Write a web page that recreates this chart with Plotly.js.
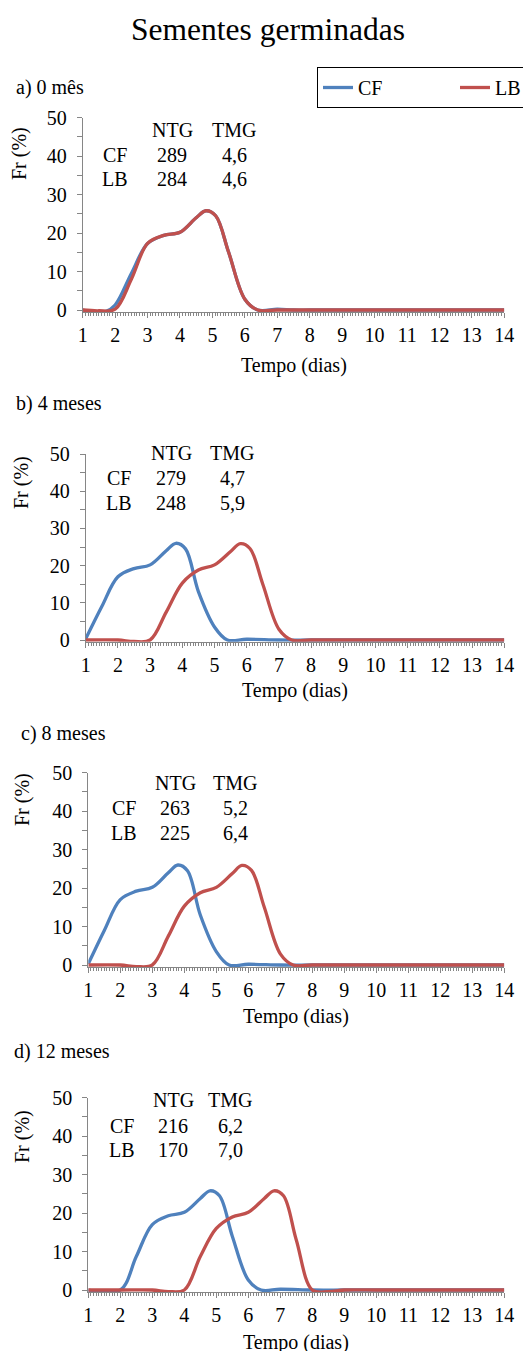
<!DOCTYPE html>
<html>
<head>
<meta charset="utf-8">
<script src="https://cdn.plot.ly/plotly-3.0.1.min.js"></script>
<style>html,body{margin:0;padding:0;background:#fff;}#chart{width:523px;height:1351px;}</style>
</head>
<body>
<div id="chart"></div>
<script>
// ---------- data ----------
var seriesNames = ["CF", "LB"];
var panelLabels = ["a) 0 mês", "b) 4 meses", "c) 8 meses", "d) 12 meses"];

// panel a) 0 mês
var aCF_x = [1, 1.7, 2, 2.5, 3, 3.5, 4, 4.5, 4.8, 5.1, 5.5, 6, 6.4, 7, 7.5, 8, 9, 10, 11, 12, 13, 14];
var aCF_y = [0, -0.4, 1.3, 9.5, 17.3, 19.4, 20.2, 24, 25.8, 24.5, 15, 2.8, 0, 0.2, 0, 0, 0, 0, 0, 0, 0, 0];
var aLB_x = [1, 1.5, 2, 2.5, 3, 3.5, 4, 4.5, 4.8, 5.1, 5.5, 6, 6.4, 7, 8, 9, 10, 11, 12, 13, 14];
var aLB_y = [0, -0.2, 0.2, 8, 17.3, 19.4, 20.2, 24, 25.8, 24.5, 15, 2.8, 0, 0, 0, 0, 0, 0, 0, 0, 0];

// panel b) 4 meses
var bCF_x = [1, 1.5, 2, 2.5, 3, 3.5, 3.8, 4.1, 4.5, 5, 5.4, 6, 7, 8, 9, 10, 11, 12, 13, 14];
var bCF_y = [0.3, 9, 17, 19.2, 20.2, 24, 26, 24.5, 13, 3.5, 0, 0.2, 0, 0, 0, 0, 0, 0, 0, 0];
var bLB_x = [1, 2, 2.5, 3, 3.5, 4, 4.5, 5, 5.5, 5.8, 6.1, 6.5, 7, 7.4, 8, 9, 10, 11, 12, 13, 14];
var bLB_y = [0, 0, -0.4, 0, 7.5, 15.3, 18.8, 20.2, 23.8, 25.9, 24.6, 15, 2.9, 0, 0, 0, 0, 0, 0, 0, 0];

// panel c) 8 meses
var cCF_x = [1, 1.5, 2, 2.5, 3, 3.5, 3.8, 4.1, 4.5, 5, 5.4, 6, 7, 8, 9, 10, 11, 12, 13, 14];
var cCF_y = [0.3, 9, 17, 19.2, 20.2, 24, 26, 24.5, 13, 3.5, 0, 0.2, 0, 0, 0, 0, 0, 0, 0, 0];
var cLB_x = [1, 2, 2.5, 3, 3.5, 4, 4.5, 5, 5.5, 5.8, 6.1, 6.5, 7, 7.4, 8, 9, 10, 11, 12, 13, 14];
var cLB_y = [0, 0, -0.4, 0, 7.5, 15.3, 18.8, 20.2, 23.8, 25.9, 24.6, 15, 2.9, 0, 0, 0, 0, 0, 0, 0, 0];

// panel d) 12 meses
var dCF_x = [1, 2, 2.5, 3, 3.5, 4, 4.5, 4.8, 5.1, 5.5, 6, 6.4, 7, 8, 9, 10, 11, 12, 13, 14];
var dCF_y = [0, 0, 8.7, 17, 19.3, 20.2, 23.8, 25.8, 24.5, 14, 2.6, 0, 0.2, 0, 0, 0, 0, 0, 0, 0];
var dLB_x = [1, 2, 3, 3.5, 4, 4.5, 5, 5.5, 6, 6.5, 6.8, 7.1, 7.5, 8, 8.5, 9, 10, 11, 12, 13, 14];
var dLB_y = [0, 0, 0, -0.4, 0, 8.7, 16, 19, 20.2, 23.8, 25.8, 24.5, 13, 0, -0.4, 0, 0, 0, 0, 0, 0];

// NTG / TMG table values
var ntgCF = ["289", "279", "263", "216"];
var ntgLB = ["284", "248", "225", "170"];
var tmgCF = ["4,6", "4,7", "5,2", "6,2"];
var tmgLB = ["4,6", "5,9", "6,4", "7,0"];

// ---------- layout helpers ----------
var W = 523, H = 1351;
function px(x) { return x / W; }
function py(y) { return 1 - y / H; }
var colors = { CF: "#4F81BD", LB: "#C0504D" };
var font = "'Liberation Serif', 'Times New Roman', 'DejaVu Serif', serif";
var axisGrey = "#868686";
var yMin = -0.5;

// pixel frames: [x of day 1, x of day 14, y pixel of 50, y pixel of 0]
var frames = [
  [82.7, 504.3, 117.7, 310],
  [85.7, 504.3, 454, 640],
  [88.3, 504.3, 772.7, 965],
  [88.3, 504.3, 1097.7, 1290]
];
// text positions per panel
var panelLabelPos = [[14, 87], [14, 403], [19, 733], [12, 1051]];
var yTitlePos = [[20, 154], [22, 483], [22, 800], [22, 1137]];
var xTitleY = [365, 690, 1016, 1342];
var tableRows = [
  // [colLabelX, ntgX, tmgX, headerY, cfY, lbY]
  [115, 172, 234, 130, 155, 179],
  [119, 171, 232, 453, 478, 503],
  [124, 175, 235, 783, 808, 833],
  [122, 173, 230, 1100, 1126, 1150]
];

var xs = [[aCF_x, aLB_x], [bCF_x, bLB_x], [cCF_x, cLB_x], [dCF_x, dLB_x]];
var ys = [[aCF_y, aLB_y], [bCF_y, bLB_y], [cCF_y, cLB_y], [dCF_y, dLB_y]];

var data = [];
var layout = {
  width: W, height: H,
  margin: { l: 0, r: 0, t: 0, b: 0, autoexpand: false },
  paper_bgcolor: "#fff", plot_bgcolor: "rgba(0,0,0,0)",
  font: { family: font, size: 20, color: "#000" },
  showlegend: true,
  title: { text: "Sementes germinadas", x: px(268), y: py(29), xanchor: "center", yanchor: "middle", xref: "paper", yref: "paper",
           font: { family: font, size: 31.5, color: "#000" } },
  legend: { orientation: "h", x: px(317), y: py(67), xanchor: "left", yanchor: "top",
            bordercolor: "#000", borderwidth: 1, bgcolor: "#fff",
            font: { family: font, size: 20, color: "#000" }, traceorder: "normal",
            entrywidth: 92, entrywidthmode: "pixels" },
  annotations: [],
  shapes: []
};

for (var p = 0; p < 4; p++) {
  var f = frames[p];
  var unit = (f[3] - f[2]) / 50;
  var bottom = f[3] + (0 - yMin) * unit;
  var sfx = p === 0 ? "" : String(p + 1);
  var xa = "xaxis" + sfx, ya = "yaxis" + sfx;
  for (var s = 0; s < 2; s++) {
    data.push({
      type: "scatter", mode: "lines",
      x: xs[p][s], y: ys[p][s],
      name: seriesNames[s], legendgroup: seriesNames[s], showlegend: p === 0,
      xaxis: "x" + sfx, yaxis: "y" + sfx,
      line: { color: colors[seriesNames[s]], width: 3.3, shape: "spline", smoothing: 1 },
      hoverinfo: "x+y"
    });
  }
  layout[xa] = {
    domain: [px(f[0]), px(f[1])], anchor: "y" + sfx,
    range: [1, 14], tickmode: "linear", tick0: 1, dtick: 1,
    showline: true, linecolor: axisGrey, linewidth: 1,
    ticks: "outside", ticklen: 5, tickcolor: axisGrey, tickwidth: 1,
    showgrid: false, zeroline: false,
    tickfont: { family: font, size: 20, color: "#000" },
    minor: { tickmode: "linear", dtick: 1 / 12, tick0: 1, ticks: "outside", ticklen: 3, tickcolor: axisGrey, tickwidth: 1, showgrid: false },
    fixedrange: true
  };
  layout[ya] = {
    domain: [py(bottom), py(f[2])], anchor: "x" + sfx,
    range: [yMin, 50], tickmode: "linear", tick0: 0, dtick: 10,
    showline: true, linecolor: axisGrey, linewidth: 1,
    ticks: "outside", ticklen: 5, tickcolor: axisGrey, tickwidth: 1,
    ticklabelstandoff: 6,
    showgrid: false, zeroline: false,
    tickfont: { family: font, size: 20, color: "#000" },
    minor: { tickmode: "linear", tick0: 0, dtick: 5, ticks: "outside", ticklen: 5, tickcolor: axisGrey, tickwidth: 1, showgrid: false },
    fixedrange: true
  };

  var ann = layout.annotations;
  ann.push({ text: panelLabels[p], x: px(panelLabelPos[p][0]), y: py(panelLabelPos[p][1]), xref: "paper", yref: "paper",
             xanchor: "left", yanchor: "middle", showarrow: false, font: { size: 20 } });
  ann.push({ text: "Fr (%)", x: px(yTitlePos[p][0]), y: py(yTitlePos[p][1]), xref: "paper", yref: "paper",
             xanchor: "center", yanchor: "middle", textangle: -90, showarrow: false, font: { size: 20 } });
  ann.push({ text: "Tempo (dias)", x: px((f[0] + f[1]) / 2), y: py(xTitleY[p]), xref: "paper", yref: "paper",
             xanchor: "center", yanchor: "middle", showarrow: false, font: { size: 20 } });
  var t = tableRows[p];
  var cells = [
    ["NTG", t[1], t[3]], ["TMG", t[2], t[3]],
    [seriesNames[0], t[0], t[4]], [ntgCF[p], t[1], t[4]], [tmgCF[p], t[2], t[4]],
    [seriesNames[1], t[0], t[5]], [ntgLB[p], t[1], t[5]], [tmgLB[p], t[2], t[5]]
  ];
  cells.forEach(function (c) {
    ann.push({ text: c[0], x: px(c[1]), y: py(c[2]), xref: "paper", yref: "paper",
               xanchor: "center", yanchor: "middle", showarrow: false, font: { size: 20 } });
  });
}

Plotly.newPlot("chart", data, layout, { staticPlot: true, displayModeBar: false });
</script>
</body>
</html>
